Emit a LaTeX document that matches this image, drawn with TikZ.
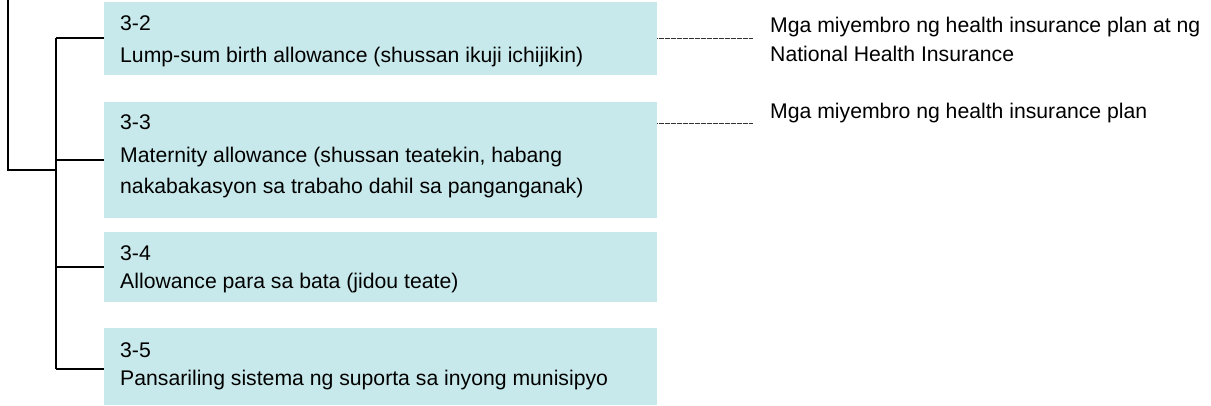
\documentclass[tikz,border=0pt]{standalone}
\usepackage{fontspec}
\setmainfont{Liberation Sans}
\definecolor{boxfill}{RGB}{200,233,235}
\definecolor{dotgray}{RGB}{50,50,50}
\begin{document}
\begin{tikzpicture}[x=1pt,y=-1pt,
  itembox/.style={draw=none,fill=boxfill,rectangle,inner sep=0,anchor=north west},
  txt/.style={anchor=base west,inner sep=0,font=\fontsize{21.2}{25}\selectfont},
  tree/.style={line width=1.4pt,black},
  leader/.style={line width=1pt,dotgray,dash pattern=on 0.8pt off 0.4pt}]
\useasboundingbox (0,0) rectangle (1211,405);
% boxes
\node[itembox,minimum width=553pt,minimum height=73pt] (b2) at (104,2) {};
\node[itembox,minimum width=553pt,minimum height=116pt] (b3) at (104,102) {};
\node[itembox,minimum width=553pt,minimum height=70pt] (b4) at (104,232) {};
\node[itembox,minimum width=553pt,minimum height=77pt] (b5) at (104,328) {};
% box texts
\node[txt] (n2) at (120,30) {3-2};
\node[txt] (l2) at (120,62) {Lump-sum birth allowance (shussan ikuji ichijikin)};
\node[txt] (n3) at (120,129) {3-3};
\node[txt] (l3a) at (120,162) {Maternity allowance (shussan teatekin, habang};
\node[txt] (l3b) at (120,193) {nakabakasyon sa trabaho dahil sa panganganak)};
\node[txt] (n4) at (120,260) {3-4};
\node[txt] (l4) at (120,288) {Allowance para sa bata (jidou teate)};
\node[txt] (n5) at (120,357) {3-5};
\node[txt] (l5) at (120,385) {Pansariling sistema ng suporta sa inyong munisipyo};
% right texts
\node[txt] (r2a) at (770,32) {Mga miyembro ng health insurance plan at ng};
\node[txt] (r2b) at (770,61) {National Health Insurance};
\node[txt] (r3) at (770,118) {Mga miyembro ng health insurance plan};
% tree connectors
\coordinate (top) at (8,-2);
\coordinate (j) at (56,170);
\coordinate (s2) at (56,38);
\coordinate (s3) at (56,160);
\coordinate (s4) at (56,267);
\coordinate (s5) at (56,369);
\draw[tree] (top) |- (j);
\draw[tree] (s2) -- (s5);
\draw[tree] (s2) -- (s2 -| b2.west);
\draw[tree] (s3) -- (s3 -| b3.west);
\draw[tree] (s4) -- (s4 -| b4.west);
\draw[tree] (s5) -- (s5 -| b5.west);
% leaders
\coordinate (e2) at (753,38);
\coordinate (e3) at (753,123);
\draw[leader] (e2 -| b2.east) -- (e2);
\draw[leader] (e3 -| b3.east) -- (e3);
\end{tikzpicture}
\end{document}
